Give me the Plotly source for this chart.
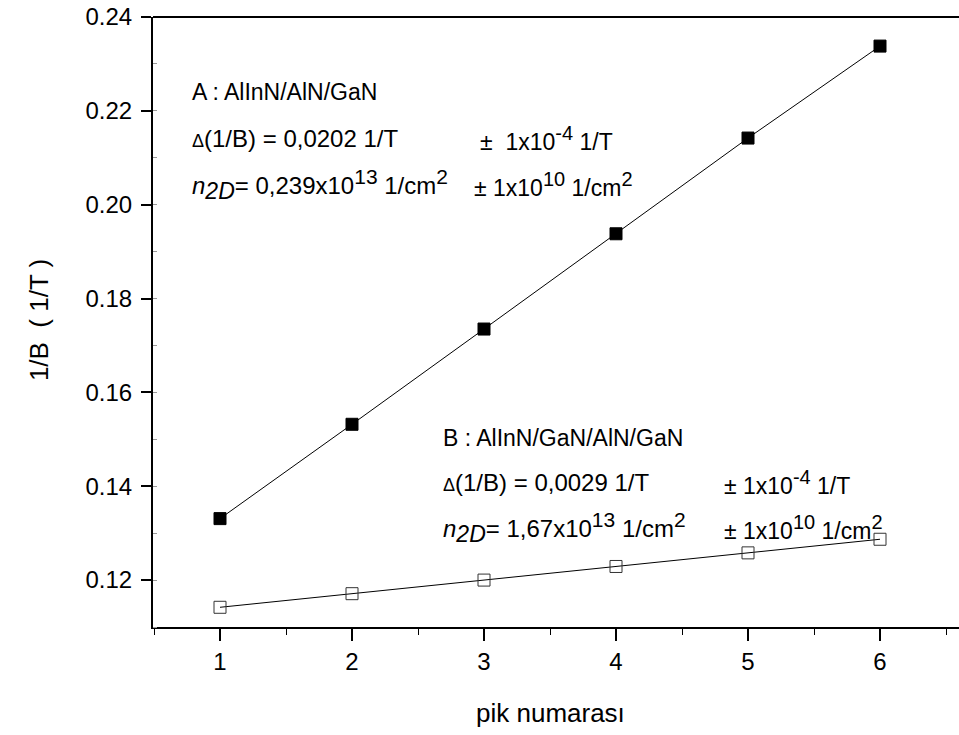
import plotly.graph_objects as go

# Peak index vs. inverse magnetic field for the two heterostructures
peak_no = [1, 2, 3, 4, 5, 6]
inv_b_a = [0.1331, 0.1532, 0.1735, 0.1938, 0.2142, 0.2338]   # A : AlInN/AlN/GaN
inv_b_b = [0.1142, 0.1171, 0.1200, 0.1229, 0.1258, 0.1287]   # B : AlInN/GaN/AlN/GaN

x_ticks = [1, 2, 3, 4, 5, 6]
y_ticks = [0.12, 0.14, 0.16, 0.18, 0.20, 0.22, 0.24]
y_tick_text = ["0.12", "0.14", "0.16", "0.18", "0.20", "0.22", "0.24"]

FONT = "Liberation Sans, Arial, sans-serif"

fig = go.Figure()

fig.add_trace(go.Scatter(
    x=peak_no, y=inv_b_a, mode="lines+markers",
    line=dict(color="black", width=1),
    marker=dict(symbol="square", size=12, color="black",
                line=dict(color="black", width=1)),
    showlegend=False,
))
fig.add_trace(go.Scatter(
    x=peak_no, y=inv_b_b, mode="lines+markers",
    line=dict(color="black", width=1),
    marker=dict(symbol="square-open", size=12, color="#333333",
                line=dict(width=1)),
    showlegend=False,
))

fig.update_layout(
    width=959, height=735,
    margin=dict(l=153, r=0, t=17, b=108),
    plot_bgcolor="white", paper_bgcolor="white",
    font=dict(family=FONT, size=24, color="black"),
)

fig.update_xaxes(
    range=[0.4924, 6.5985], tickvals=x_ticks,
    showgrid=False, zeroline=False,
    showline=True, linecolor="black", linewidth=2,
    ticks="outside", ticklen=12, tickwidth=1.5, tickcolor="black",
    tickfont=dict(size=24, family=FONT),
    minor=dict(ticks="outside", ticklen=6, dtick=0.5, tickcolor="black", tickwidth=1),
)
fig.update_yaxes(
    range=[0.11, 0.24], tickvals=y_ticks, ticktext=y_tick_text,
    showgrid=False, zeroline=False,
    showline=True, linecolor="black", linewidth=2,
    ticks="outside", ticklen=10, tickwidth=1.5, tickcolor="black",
    tickfont=dict(size=24, family=FONT), ticklabelstandoff=4,
    minor=dict(ticks="inside", ticklen=4, dtick=0.01, tickcolor="#999999", tickwidth=1),
)

# top frame line
fig.add_shape(type="line", xref="paper", yref="paper", x0=0, x1=1, y0=1, y1=1,
              line=dict(color="black", width=2))

# axis titles
fig.add_annotation(text="pik numarası", xref="x", yref="paper", x=3.5, y=0,
                   yshift=-86, showarrow=False, font=dict(size=26),
                   xanchor="center", yanchor="middle")
fig.add_annotation(text="1/B  ( 1/T )", xref="paper", yref="y", x=0, y=0.1754,
                   xshift=-114, textangle=-90, showarrow=False,
                   font=dict(size=26), xanchor="center", yanchor="middle")


def sup(s, px):
    return f"<sup><span style='font-size:{px}px'>{s}</span></sup>"


DELTA = "<span style='font-size:18px'>Δ</span>"
N2D = "<i>n</i><sub><span style='font-size:23px'><i>2D</i></span></sub>"

# sample descriptions
notes = [
    ("A : AlInN/AlN/GaN", 0.773, 0.2240, 23),
    (f"{DELTA}(1/B) = 0,0202 1/T", 0.773, 0.2142, 24),
    (f"{N2D}= 0,239x10{sup('13', 21)} 1/cm{sup('2', 21)}", 0.773, 0.2042, 24),
    (f"±  1x10{sup('-4', 20)} 1/T", 2.955, 0.2142, 23),
    (f"± 1x10{sup('10', 20)} 1/cm{sup('2', 20)}", 2.909, 0.2042, 23),
    ("B : AlInN/GaN/AlN/GaN", 2.674, 0.1503, 23),
    (f"{DELTA}(1/B) = 0,0029 1/T", 2.674, 0.1407, 24),
    (f"{N2D}= 1,67x10{sup('13', 21)} 1/cm{sup('2', 21)}", 2.674, 0.1313, 24),
    (f"± 1x10{sup('-4', 20)} 1/T", 4.803, 0.1407, 23),
    (f"± 1x10{sup('10', 20)} 1/cm{sup('2', 20)}", 4.803, 0.1313, 23),
]
for text, x, y, size in notes:
    fig.add_annotation(text=text, xref="x", yref="y", x=x, y=y,
                       showarrow=False, xanchor="left", yanchor="middle",
                       font=dict(size=size))

fig.write_html("out.html")
